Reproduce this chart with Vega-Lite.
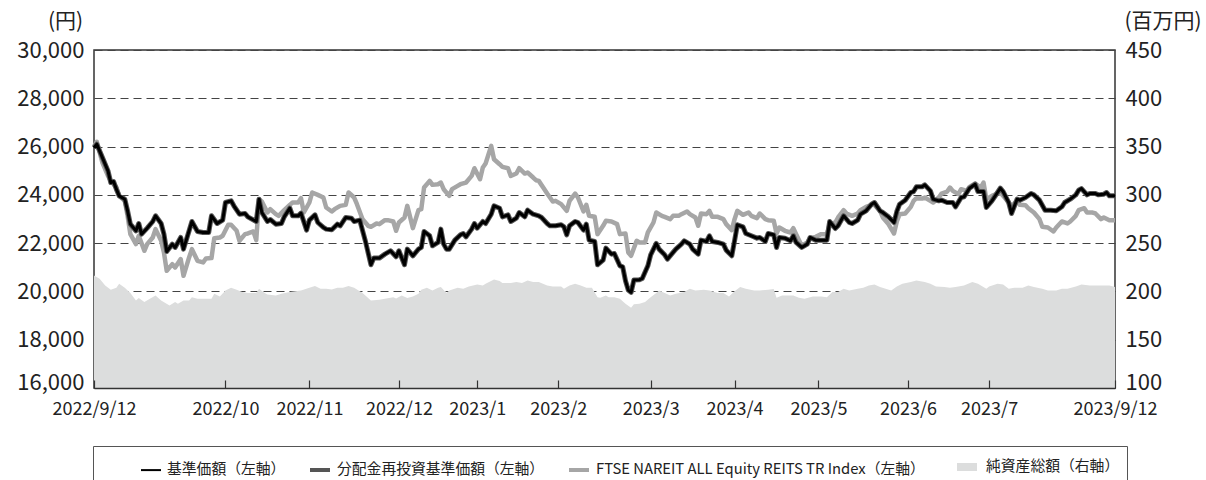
{
  "$schema": "https://vega.github.io/schema/vega-lite/v6.json",
  "width": 1021,
  "height": 338,
  "autosize": {"type": "none"},
  "padding": {"left": 94, "top": 50, "right": 91, "bottom": 92},
  "background": "white",
  "config": {
    "font": "Noto Sans CJK JP",
    "view": {"stroke": "#333", "strokeWidth": 1.5},
    "axis": {"labelFont": "Noto Sans CJK JP", "titleFont": "Noto Sans CJK JP", "labelColor": "#222", "titleColor": "#222", "titleFontWeight": "normal"},
    "legend": {
      "orient": "none", "legendX": -1, "legendY": 396, "direction": "horizontal",
      "labelFont": "Noto Sans CJK JP", "labelFontSize": 14.8, "labelColor": "#222", "labelLimit": 700,
      "titleOrient": "left", "titlePadding": 40, "titleFont": "Noto Sans CJK JP", "titleFontSize": 14,
      "symbolType": "stroke", "symbolSize": 400, "symbolStrokeWidth": 4, "labelOffset": 5, "columnPadding": 16,
      "padding": 7, "strokeColor": "#555", "fillColor": "white"
    }
  },
  "datasets": {
    "nav": [
      {"date":"2022-09-12","v":25950},{"date":"2022-09-13","v":26100},{"date":"2022-09-15","v":25545},{"date":"2022-09-17","v":24993},{"date":"2022-09-18","v":24510},{"date":"2022-09-19","v":24552},{"date":"2022-09-20","v":24235},{"date":"2022-09-21","v":23959},{"date":"2022-09-23","v":23821},{"date":"2022-09-24","v":23338},{"date":"2022-09-25","v":22787},{"date":"2022-09-27","v":22511},{"date":"2022-09-28","v":22814},{"date":"2022-09-29","v":22373},
      {"date":"2022-10-01","v":22621},{"date":"2022-10-03","v":22897},{"date":"2022-10-04","v":23131},{"date":"2022-10-06","v":22814},{"date":"2022-10-07","v":22373},{"date":"2022-10-08","v":21655},{"date":"2022-10-10","v":21959},{"date":"2022-10-11","v":21821},{"date":"2022-10-13","v":22235},{"date":"2022-10-14","v":21752},{"date":"2022-10-16","v":22511},{"date":"2022-10-17","v":22897},{"date":"2022-10-19","v":22483},{"date":"2022-10-21","v":22442},{"date":"2022-10-23","v":22442},{"date":"2022-10-24","v":23131},{"date":"2022-10-26","v":22814},{"date":"2022-10-28","v":22952},{"date":"2022-10-29","v":23683},{"date":"2022-10-31","v":23752},
      {"date":"2022-11-01","v":23545},{"date":"2022-11-03","v":23200},{"date":"2022-11-05","v":23228},{"date":"2022-11-06","v":23090},{"date":"2022-11-09","v":22897},{"date":"2022-11-10","v":23821},{"date":"2022-11-11","v":23269},{"date":"2022-11-13","v":22897},{"date":"2022-11-14","v":22980},{"date":"2022-11-16","v":22787},{"date":"2022-11-18","v":22814},{"date":"2022-11-19","v":23090},{"date":"2022-11-21","v":23448},{"date":"2022-11-22","v":23131},{"date":"2022-11-24","v":23131},{"date":"2022-11-25","v":23242},{"date":"2022-11-27","v":22539},{"date":"2022-11-28","v":22952},{"date":"2022-11-30","v":23173},
      {"date":"2022-12-01","v":22855},{"date":"2022-12-03","v":22649},{"date":"2022-12-04","v":22580},{"date":"2022-12-06","v":22552},{"date":"2022-12-08","v":22787},{"date":"2022-12-09","v":22718},{"date":"2022-12-11","v":23063},{"date":"2022-12-13","v":23035},{"date":"2022-12-14","v":22897},{"date":"2022-12-16","v":22952},{"date":"2022-12-18","v":22097},{"date":"2022-12-20","v":21104},{"date":"2022-12-21","v":21380},{"date":"2022-12-23","v":21380},{"date":"2022-12-25","v":21545},{"date":"2022-12-27","v":21683},{"date":"2022-12-29","v":21435},{"date":"2022-12-30","v":21683},
      {"date":"2023-01-01","v":21104},{"date":"2023-01-02","v":21752},{"date":"2023-01-04","v":21476},{"date":"2023-01-06","v":21752},{"date":"2023-01-07","v":21821},{"date":"2023-01-08","v":22483},{"date":"2023-01-10","v":22304},{"date":"2023-01-11","v":21890},{"date":"2023-01-13","v":22028},{"date":"2023-01-14","v":22580},{"date":"2023-01-15","v":21959},{"date":"2023-01-16","v":21752},{"date":"2023-01-17","v":21752},{"date":"2023-01-19","v":22124},{"date":"2023-01-21","v":22345},{"date":"2023-01-22","v":22400},{"date":"2023-01-23","v":22262},{"date":"2023-01-25","v":22580},{"date":"2023-01-26","v":22814},{"date":"2023-01-27","v":22621},{"date":"2023-01-29","v":22897},{"date":"2023-01-30","v":22814},
      {"date":"2023-02-01","v":23200},{"date":"2023-02-02","v":23545},{"date":"2023-02-04","v":23448},{"date":"2023-02-05","v":23090},{"date":"2023-02-07","v":23173},{"date":"2023-02-08","v":22897},{"date":"2023-02-10","v":23035},{"date":"2023-02-11","v":23269},{"date":"2023-02-13","v":23090},{"date":"2023-02-14","v":23366},{"date":"2023-02-16","v":23200},{"date":"2023-02-18","v":23131},{"date":"2023-02-19","v":23063},{"date":"2023-02-21","v":22814},{"date":"2023-02-22","v":22718},{"date":"2023-02-24","v":22718},{"date":"2023-02-26","v":22759},{"date":"2023-02-27","v":22676},{"date":"2023-02-28","v":22345},
      {"date":"2023-03-01","v":22718},{"date":"2023-03-03","v":22897},{"date":"2023-03-04","v":22855},{"date":"2023-03-06","v":22539},{"date":"2023-03-07","v":22787},{"date":"2023-03-08","v":22124},{"date":"2023-03-10","v":22069},{"date":"2023-03-11","v":21104},{"date":"2023-03-13","v":21297},{"date":"2023-03-14","v":21793},{"date":"2023-03-16","v":21545},{"date":"2023-03-17","v":21573},{"date":"2023-03-19","v":21062},{"date":"2023-03-20","v":21021},{"date":"2023-03-21","v":20442},{"date":"2023-03-22","v":20055},{"date":"2023-03-23","v":19959},{"date":"2023-03-24","v":20469},{"date":"2023-03-26","v":20483},{"date":"2023-03-27","v":20538},{"date":"2023-03-29","v":21062},{"date":"2023-03-30","v":21517},
      {"date":"2023-04-01","v":21986},{"date":"2023-04-02","v":21752},{"date":"2023-04-04","v":21517},{"date":"2023-04-05","v":21338},{"date":"2023-04-07","v":21614},{"date":"2023-04-08","v":21752},{"date":"2023-04-10","v":21959},{"date":"2023-04-11","v":22097},{"date":"2023-04-13","v":21959},{"date":"2023-04-14","v":21752},{"date":"2023-04-16","v":21545},{"date":"2023-04-17","v":22124},{"date":"2023-04-19","v":22069},{"date":"2023-04-20","v":22304},{"date":"2023-04-21","v":22069},{"date":"2023-04-23","v":22028},{"date":"2023-04-25","v":21959},{"date":"2023-04-26","v":21710},{"date":"2023-04-28","v":21476},{"date":"2023-04-29","v":22097},{"date":"2023-04-30","v":22759},
      {"date":"2023-05-02","v":22676},{"date":"2023-05-03","v":22400},{"date":"2023-05-05","v":22304},{"date":"2023-05-07","v":22207},{"date":"2023-05-08","v":22235},{"date":"2023-05-10","v":22069},{"date":"2023-05-11","v":22400},{"date":"2023-05-13","v":22345},{"date":"2023-05-14","v":21821},{"date":"2023-05-15","v":22235},{"date":"2023-05-17","v":22207},{"date":"2023-05-19","v":22097},{"date":"2023-05-20","v":22304},{"date":"2023-05-21","v":22028},{"date":"2023-05-23","v":21821},{"date":"2023-05-25","v":21959},{"date":"2023-05-26","v":22235},{"date":"2023-05-28","v":22124},{"date":"2023-05-30","v":22124},
      {"date":"2023-06-01","v":22124},{"date":"2023-06-02","v":22897},{"date":"2023-06-04","v":22607},{"date":"2023-06-05","v":22718},{"date":"2023-06-07","v":23131},{"date":"2023-06-09","v":22855},{"date":"2023-06-10","v":22814},{"date":"2023-06-12","v":22952},{"date":"2023-06-13","v":23200},{"date":"2023-06-15","v":23338},{"date":"2023-06-17","v":23614},{"date":"2023-06-18","v":23683},{"date":"2023-06-20","v":23338},{"date":"2023-06-21","v":23269},{"date":"2023-06-23","v":23090},{"date":"2023-06-25","v":22855},{"date":"2023-06-26","v":23311},{"date":"2023-06-27","v":23614},{"date":"2023-06-29","v":23780},
      {"date":"2023-07-01","v":24097},{"date":"2023-07-02","v":24138},{"date":"2023-07-03","v":24331},{"date":"2023-07-05","v":24331},{"date":"2023-07-06","v":24414},{"date":"2023-07-08","v":24166},{"date":"2023-07-09","v":23821},{"date":"2023-07-11","v":23752},{"date":"2023-07-12","v":23780},{"date":"2023-07-14","v":23683},{"date":"2023-07-16","v":23683},{"date":"2023-07-17","v":23504},{"date":"2023-07-19","v":23890},{"date":"2023-07-20","v":23917},{"date":"2023-07-22","v":24276},{"date":"2023-07-24","v":24441},{"date":"2023-07-25","v":24138},{"date":"2023-07-27","v":24138},{"date":"2023-07-28","v":23476},{"date":"2023-07-30","v":23752},
      {"date":"2023-08-01","v":24097},{"date":"2023-08-02","v":24276},{"date":"2023-08-03","v":24138},{"date":"2023-08-05","v":23683},{"date":"2023-08-06","v":23228},{"date":"2023-08-08","v":23821},{"date":"2023-08-09","v":23780},{"date":"2023-08-11","v":23890},{"date":"2023-08-13","v":24055},{"date":"2023-08-14","v":24000},{"date":"2023-08-16","v":23780},{"date":"2023-08-18","v":23366},{"date":"2023-08-20","v":23366},{"date":"2023-08-22","v":23338},{"date":"2023-08-24","v":23504},{"date":"2023-08-25","v":23683},{"date":"2023-08-27","v":23821},{"date":"2023-08-29","v":24000},{"date":"2023-08-30","v":24193},{"date":"2023-08-31","v":24262},
      {"date":"2023-09-02","v":24000},{"date":"2023-09-03","v":24055},{"date":"2023-09-05","v":24055},{"date":"2023-09-06","v":24000},{"date":"2023-09-08","v":24028},{"date":"2023-09-09","v":24097},{"date":"2023-09-10","v":23959},{"date":"2023-09-12","v":23959}
    ],
    "ftse": [
      {"date":"2022-09-12","v":26000},{"date":"2022-09-13","v":26200},{"date":"2022-09-15","v":25338},{"date":"2022-09-17","v":24786},{"date":"2022-09-18","v":24579},{"date":"2022-09-20","v":24304},{"date":"2022-09-21","v":23959},{"date":"2022-09-23","v":23752},{"date":"2022-09-24","v":23131},{"date":"2022-09-25","v":22373},{"date":"2022-09-27","v":21959},{"date":"2022-09-28","v":22304},{"date":"2022-09-30","v":21683},
      {"date":"2022-10-01","v":21959},{"date":"2022-10-03","v":22235},{"date":"2022-10-04","v":22580},{"date":"2022-10-06","v":22097},{"date":"2022-10-07","v":21614},{"date":"2022-10-08","v":20855},{"date":"2022-10-10","v":21131},{"date":"2022-10-11","v":20993},{"date":"2022-10-13","v":21338},{"date":"2022-10-14","v":20648},{"date":"2022-10-16","v":21407},{"date":"2022-10-17","v":21752},{"date":"2022-10-19","v":21269},{"date":"2022-10-21","v":21200},{"date":"2022-10-22","v":21366},{"date":"2022-10-24","v":21380},{"date":"2022-10-25","v":22207},{"date":"2022-10-27","v":22235},{"date":"2022-10-28","v":22304},{"date":"2022-10-30","v":22759},{"date":"2022-10-31","v":22759},
      {"date":"2022-11-02","v":22511},{"date":"2022-11-03","v":22097},{"date":"2022-11-05","v":22373},{"date":"2022-11-06","v":22400},{"date":"2022-11-08","v":22483},{"date":"2022-11-09","v":22124},{"date":"2022-11-10","v":23821},{"date":"2022-11-11","v":23724},{"date":"2022-11-13","v":23269},{"date":"2022-11-14","v":23407},{"date":"2022-11-16","v":23200},{"date":"2022-11-17","v":23131},{"date":"2022-11-19","v":23366},{"date":"2022-11-21","v":23586},{"date":"2022-11-22","v":23683},{"date":"2022-11-24","v":23683},{"date":"2022-11-25","v":23862},{"date":"2022-11-26","v":23269},{"date":"2022-11-28","v":23683},{"date":"2022-11-29","v":24097},
      {"date":"2022-12-01","v":24000},{"date":"2022-12-03","v":23890},{"date":"2022-12-04","v":23476},{"date":"2022-12-06","v":23311},{"date":"2022-12-07","v":23407},{"date":"2022-12-09","v":23545},{"date":"2022-12-11","v":23586},{"date":"2022-12-12","v":24097},{"date":"2022-12-14","v":23890},{"date":"2022-12-15","v":23614},{"date":"2022-12-17","v":22993},{"date":"2022-12-19","v":22718},{"date":"2022-12-20","v":22676},{"date":"2022-12-22","v":22814},{"date":"2022-12-23","v":22787},{"date":"2022-12-25","v":22952},{"date":"2022-12-26","v":22952},{"date":"2022-12-28","v":22897},{"date":"2022-12-29","v":22511},{"date":"2022-12-30","v":22855},
      {"date":"2023-01-01","v":23063},{"date":"2023-01-02","v":23545},{"date":"2023-01-04","v":22621},{"date":"2023-01-06","v":23366},{"date":"2023-01-07","v":23407},{"date":"2023-01-08","v":24304},{"date":"2023-01-10","v":24579},{"date":"2023-01-11","v":24414},{"date":"2023-01-13","v":24441},{"date":"2023-01-14","v":24510},{"date":"2023-01-15","v":24235},{"date":"2023-01-17","v":23959},{"date":"2023-01-18","v":24235},{"date":"2023-01-20","v":24372},{"date":"2023-01-21","v":24441},{"date":"2023-01-23","v":24510},{"date":"2023-01-25","v":24786},{"date":"2023-01-26","v":25104},{"date":"2023-01-28","v":24648},{"date":"2023-01-29","v":25131},{"date":"2023-01-30","v":25297},
      {"date":"2023-02-01","v":26028},{"date":"2023-02-02","v":25476},{"date":"2023-02-04","v":25269},{"date":"2023-02-05","v":25159},{"date":"2023-02-07","v":25104},{"date":"2023-02-08","v":24786},{"date":"2023-02-10","v":24883},{"date":"2023-02-11","v":25104},{"date":"2023-02-13","v":24883},{"date":"2023-02-14","v":24924},{"date":"2023-02-16","v":24717},{"date":"2023-02-17","v":24607},{"date":"2023-02-18","v":24579},{"date":"2023-02-20","v":24235},{"date":"2023-02-21","v":24055},{"date":"2023-02-23","v":23724},{"date":"2023-02-24","v":23752},{"date":"2023-02-26","v":23614},{"date":"2023-02-28","v":23338},
      {"date":"2023-03-01","v":23752},{"date":"2023-03-03","v":24055},{"date":"2023-03-04","v":23890},{"date":"2023-03-06","v":23311},{"date":"2023-03-07","v":23586},{"date":"2023-03-08","v":23131},{"date":"2023-03-10","v":23090},{"date":"2023-03-11","v":22373},{"date":"2023-03-13","v":22718},{"date":"2023-03-14","v":22924},{"date":"2023-03-16","v":22897},{"date":"2023-03-18","v":22787},{"date":"2023-03-19","v":22373},{"date":"2023-03-21","v":22400},{"date":"2023-03-22","v":21614},{"date":"2023-03-23","v":21476},{"date":"2023-03-25","v":22097},{"date":"2023-03-26","v":22028},{"date":"2023-03-28","v":22028},{"date":"2023-03-29","v":22442},{"date":"2023-03-31","v":22855},
      {"date":"2023-04-01","v":23269},{"date":"2023-04-03","v":23131},{"date":"2023-04-04","v":23090},{"date":"2023-04-06","v":22993},{"date":"2023-04-07","v":23131},{"date":"2023-04-09","v":23131},{"date":"2023-04-10","v":23200},{"date":"2023-04-12","v":23311},{"date":"2023-04-13","v":23200},{"date":"2023-04-15","v":23063},{"date":"2023-04-16","v":22718},{"date":"2023-04-17","v":23228},{"date":"2023-04-19","v":23200},{"date":"2023-04-20","v":23338},{"date":"2023-04-21","v":23090},{"date":"2023-04-23","v":23090},{"date":"2023-04-25","v":22993},{"date":"2023-04-26","v":22787},{"date":"2023-04-28","v":22539},{"date":"2023-04-29","v":22993},{"date":"2023-04-30","v":23338},
      {"date":"2023-05-02","v":23173},{"date":"2023-05-04","v":23269},{"date":"2023-05-05","v":23131},{"date":"2023-05-07","v":23035},{"date":"2023-05-08","v":23228},{"date":"2023-05-10","v":22993},{"date":"2023-05-11","v":22952},{"date":"2023-05-13","v":22924},{"date":"2023-05-14","v":22400},{"date":"2023-05-15","v":22649},{"date":"2023-05-17","v":22511},{"date":"2023-05-19","v":22442},{"date":"2023-05-20","v":22621},{"date":"2023-05-21","v":22373},{"date":"2023-05-23","v":21890},{"date":"2023-05-25","v":22028},{"date":"2023-05-26","v":22207},{"date":"2023-05-28","v":22262},{"date":"2023-05-30","v":22373},
      {"date":"2023-06-01","v":22373},{"date":"2023-06-02","v":22787},{"date":"2023-06-04","v":22855},{"date":"2023-06-05","v":23063},{"date":"2023-06-07","v":23366},{"date":"2023-06-08","v":23228},{"date":"2023-06-10","v":23131},{"date":"2023-06-12","v":23228},{"date":"2023-06-13","v":23366},{"date":"2023-06-15","v":23504},{"date":"2023-06-17","v":23586},{"date":"2023-06-18","v":23586},{"date":"2023-06-20","v":23338},{"date":"2023-06-21","v":23063},{"date":"2023-06-23","v":22787},{"date":"2023-06-25","v":22400},{"date":"2023-06-26","v":22897},{"date":"2023-06-27","v":23200},{"date":"2023-06-29","v":23228},
      {"date":"2023-07-01","v":23504},{"date":"2023-07-02","v":23752},{"date":"2023-07-03","v":23862},{"date":"2023-07-05","v":23848},{"date":"2023-07-06","v":23890},{"date":"2023-07-08","v":23752},{"date":"2023-07-09","v":23683},{"date":"2023-07-11","v":23890},{"date":"2023-07-12","v":24055},{"date":"2023-07-14","v":24138},{"date":"2023-07-15","v":24304},{"date":"2023-07-16","v":24166},{"date":"2023-07-18","v":24028},{"date":"2023-07-19","v":24235},{"date":"2023-07-21","v":24166},{"date":"2023-07-22","v":24331},{"date":"2023-07-24","v":24469},{"date":"2023-07-26","v":24304},{"date":"2023-07-27","v":24510},{"date":"2023-07-28","v":23821},{"date":"2023-07-30","v":23959},
      {"date":"2023-08-01","v":24055},{"date":"2023-08-02","v":24097},{"date":"2023-08-03","v":23959},{"date":"2023-08-05","v":23683},{"date":"2023-08-06","v":23545},{"date":"2023-08-08","v":23752},{"date":"2023-08-09","v":23586},{"date":"2023-08-11","v":23573},{"date":"2023-08-12","v":23448},{"date":"2023-08-14","v":23269},{"date":"2023-08-16","v":22993},{"date":"2023-08-17","v":22676},{"date":"2023-08-19","v":22649},{"date":"2023-08-21","v":22483},{"date":"2023-08-22","v":22649},{"date":"2023-08-24","v":22897},{"date":"2023-08-26","v":22814},{"date":"2023-08-27","v":22897},{"date":"2023-08-29","v":23131},{"date":"2023-08-30","v":23366},
      {"date":"2023-09-01","v":23448},{"date":"2023-09-02","v":23269},{"date":"2023-09-04","v":23269},{"date":"2023-09-05","v":23228},{"date":"2023-09-07","v":22993},{"date":"2023-09-08","v":23063},{"date":"2023-09-10","v":22952},{"date":"2023-09-12","v":22952}
    ],
    "aum": [
      {"date":"2022-09-12","v":216.6},{"date":"2022-09-14","v":213.1},{"date":"2022-09-16","v":206.2},{"date":"2022-09-18","v":201.7},{"date":"2022-09-20","v":203.8},{"date":"2022-09-21","v":207.9},{"date":"2022-09-23","v":203.8},{"date":"2022-09-25","v":198.3},{"date":"2022-09-27","v":190.7},{"date":"2022-09-28","v":193.1},{"date":"2022-09-30","v":189.0},
      {"date":"2022-10-02","v":192.4},{"date":"2022-10-04","v":195.9},{"date":"2022-10-06","v":190.7},{"date":"2022-10-09","v":185.5},{"date":"2022-10-11","v":189.0},{"date":"2022-10-12","v":187.2},{"date":"2022-10-14","v":190.7},{"date":"2022-10-16","v":190.7},{"date":"2022-10-17","v":194.1},{"date":"2022-10-19","v":192.4},{"date":"2022-10-22","v":192.4},{"date":"2022-10-24","v":192.4},{"date":"2022-10-25","v":197.6},{"date":"2022-10-27","v":194.8},{"date":"2022-10-29","v":201.0},{"date":"2022-10-31","v":203.8},
      {"date":"2022-11-02","v":201.7},{"date":"2022-11-04","v":199.3},{"date":"2022-11-06","v":198.3},{"date":"2022-11-09","v":198.3},{"date":"2022-11-10","v":202.8},{"date":"2022-11-12","v":198.3},{"date":"2022-11-13","v":196.9},{"date":"2022-11-16","v":195.9},{"date":"2022-11-18","v":197.6},{"date":"2022-11-21","v":199.3},{"date":"2022-11-23","v":200.3},{"date":"2022-11-25","v":201.0},{"date":"2022-11-28","v":203.8},{"date":"2022-11-30","v":205.5},
      {"date":"2022-12-02","v":202.8},{"date":"2022-12-04","v":202.8},{"date":"2022-12-06","v":202.1},{"date":"2022-12-08","v":203.8},{"date":"2022-12-10","v":203.8},{"date":"2022-12-12","v":205.5},{"date":"2022-12-14","v":203.8},{"date":"2022-12-17","v":198.3},{"date":"2022-12-19","v":193.1},{"date":"2022-12-20","v":190.7},{"date":"2022-12-23","v":191.4},{"date":"2022-12-25","v":192.4},{"date":"2022-12-28","v":194.1},{"date":"2022-12-29","v":192.8},{"date":"2022-12-31","v":195.9},
      {"date":"2023-01-02","v":193.1},{"date":"2023-01-04","v":194.8},{"date":"2023-01-06","v":197.6},{"date":"2023-01-07","v":201.7},{"date":"2023-01-09","v":203.8},{"date":"2023-01-11","v":201.0},{"date":"2023-01-13","v":203.8},{"date":"2023-01-14","v":204.5},{"date":"2023-01-16","v":198.3},{"date":"2023-01-17","v":201.0},{"date":"2023-01-20","v":203.8},{"date":"2023-01-22","v":202.8},{"date":"2023-01-24","v":205.2},{"date":"2023-01-27","v":207.2},{"date":"2023-01-29","v":206.2},{"date":"2023-01-30","v":207.9},
      {"date":"2023-02-02","v":212.4},{"date":"2023-02-04","v":210.7},{"date":"2023-02-05","v":208.6},{"date":"2023-02-08","v":208.6},{"date":"2023-02-10","v":209.7},{"date":"2023-02-12","v":208.6},{"date":"2023-02-14","v":211.4},{"date":"2023-02-16","v":209.7},{"date":"2023-02-18","v":209.7},{"date":"2023-02-21","v":206.2},{"date":"2023-02-23","v":205.2},{"date":"2023-02-26","v":205.2},{"date":"2023-02-27","v":202.8},
      {"date":"2023-03-01","v":206.2},{"date":"2023-03-03","v":207.9},{"date":"2023-03-05","v":206.2},{"date":"2023-03-07","v":203.8},{"date":"2023-03-09","v":203.8},{"date":"2023-03-11","v":194.1},{"date":"2023-03-12","v":193.4},{"date":"2023-03-14","v":195.9},{"date":"2023-03-15","v":194.1},{"date":"2023-03-17","v":194.1},{"date":"2023-03-19","v":192.4},{"date":"2023-03-21","v":187.2},{"date":"2023-03-23","v":183.1},{"date":"2023-03-24","v":186.6},{"date":"2023-03-26","v":187.2},{"date":"2023-03-28","v":189.0},{"date":"2023-03-30","v":194.1},
      {"date":"2023-04-01","v":198.3},{"date":"2023-04-02","v":201.0},{"date":"2023-04-04","v":198.3},{"date":"2023-04-06","v":195.9},{"date":"2023-04-08","v":197.6},{"date":"2023-04-11","v":199.3},{"date":"2023-04-13","v":202.8},{"date":"2023-04-15","v":201.0},{"date":"2023-04-18","v":201.7},{"date":"2023-04-20","v":201.0},{"date":"2023-04-23","v":198.3},{"date":"2023-04-25","v":198.3},{"date":"2023-04-27","v":194.8},{"date":"2023-04-29","v":200.3},
      {"date":"2023-05-01","v":204.5},{"date":"2023-05-03","v":202.8},{"date":"2023-05-06","v":201.0},{"date":"2023-05-08","v":201.0},{"date":"2023-05-11","v":201.7},{"date":"2023-05-13","v":202.4},{"date":"2023-05-14","v":193.4},{"date":"2023-05-16","v":195.9},{"date":"2023-05-18","v":195.9},{"date":"2023-05-20","v":195.9},{"date":"2023-05-22","v":193.4},{"date":"2023-05-24","v":192.4},{"date":"2023-05-27","v":194.8},{"date":"2023-05-30","v":194.8},
      {"date":"2023-06-01","v":194.1},{"date":"2023-06-03","v":199.3},{"date":"2023-06-05","v":199.3},{"date":"2023-06-07","v":202.8},{"date":"2023-06-09","v":201.0},{"date":"2023-06-12","v":202.8},{"date":"2023-06-14","v":203.8},{"date":"2023-06-16","v":206.2},{"date":"2023-06-18","v":207.2},{"date":"2023-06-20","v":204.5},{"date":"2023-06-22","v":202.8},{"date":"2023-06-24","v":201.0},{"date":"2023-06-26","v":205.2},{"date":"2023-06-28","v":207.9},
      {"date":"2023-07-01","v":209.7},{"date":"2023-07-03","v":211.4},{"date":"2023-07-06","v":209.7},{"date":"2023-07-08","v":207.9},{"date":"2023-07-10","v":205.2},{"date":"2023-07-13","v":204.5},{"date":"2023-07-15","v":203.8},{"date":"2023-07-17","v":204.5},{"date":"2023-07-20","v":206.2},{"date":"2023-07-23","v":209.7},{"date":"2023-07-25","v":207.9},{"date":"2023-07-28","v":202.8},{"date":"2023-07-29","v":205.2},
      {"date":"2023-08-01","v":207.9},{"date":"2023-08-03","v":207.2},{"date":"2023-08-05","v":202.8},{"date":"2023-08-07","v":203.8},{"date":"2023-08-10","v":203.8},{"date":"2023-08-12","v":206.2},{"date":"2023-08-14","v":204.5},{"date":"2023-08-17","v":202.8},{"date":"2023-08-19","v":201.0},{"date":"2023-08-22","v":201.0},{"date":"2023-08-24","v":202.8},{"date":"2023-08-26","v":202.8},{"date":"2023-08-29","v":205.2},{"date":"2023-08-31","v":207.2},
      {"date":"2023-09-03","v":206.2},{"date":"2023-09-05","v":206.2},{"date":"2023-09-07","v":206.2},{"date":"2023-09-10","v":206.2},{"date":"2023-09-12","v":204.5}
    ]
  },
  "layer": [
    {
      "data": {"name": "aum"},
      "mark": {"type": "area", "opacity": 1, "clip": true},
      "encoding": {
        "x": {"field": "date", "type": "temporal",
          "scale": {"type": "utc", "domain": [{"year": 2022, "month": 9, "date": 12, "utc": true}, {"year": 2023, "month": 9, "date": 12, "utc": true}]},
          "axis": {"orient": "bottom", "title": null, "grid": false, "domain": true, "domainColor": "#333", "domainWidth": 1.5, "zindex": 1,
            "values": [{"year":2022,"month":9,"date":12,"utc":true},{"year":2022,"month":10,"date":29,"utc":true},{"year":2022,"month":11,"date":28,"utc":true},{"year":2022,"month":12,"date":30,"utc":true},{"year":2023,"month":1,"date":27,"utc":true},{"year":2023,"month":2,"date":25,"utc":true},{"year":2023,"month":3,"date":30,"utc":true},{"year":2023,"month":4,"date":29,"utc":true},{"year":2023,"month":5,"date":29,"utc":true},{"year":2023,"month":6,"date":30,"utc":true},{"year":2023,"month":7,"date":29,"utc":true},{"year":2023,"month":9,"date":12,"utc":true}],
            "labelExpr": "utcmonth(datum.value) == 8 ? utcFormat(datum.value, '%Y/%-m/%-d') : utcFormat(datum.value, '%Y/%-m')",
            "labelFontSize": 18, "labelFlush": false, "labelOverlap": false, "labelBound": false,
            "ticks": true, "tickSize": -8, "tickColor": "#333", "tickWidth": 1.2, "labelPadding": 20}},
        "y": {"field": "v", "type": "quantitative",
          "scale": {"domain": [100, 450], "zero": false, "nice": false},
          "axis": {"orient": "right", "values": [100, 150, 200, 250, 300, 350, 400, 450], "grid": false, "ticks": false, "domain": false,
            "labelFontSize": 22, "labelPadding": 10, "labelOverlap": false, "labelFlush": false,
            "labelOffset": {"condition": {"test": "datum.value == 100", "value": -6}, "value": 0},
            "title": "(百万円)", "titleAngle": 0, "titleFontSize": 21, "titleAlign": "left", "titleBaseline": "middle", "titleX": 9, "titleY": -29}},
        "y2": {"datum": 100},
        "color": {"datum": "純資産総額（右軸）", "type": "nominal",
          "scale": {"domain": ["基準価額（左軸）", "分配金再投資基準価額（左軸）", "FTSE NAREIT ALL Equity REITS TR Index（左軸）", "純資産総額（右軸）"],
                    "range": ["#000000", "#555555", "#a6a6a6", "#dcdddd"]},
          "legend": {"title": "　"}},
        "strokeWidth": {"datum": "純資産総額（右軸）", "type": "nominal",
          "scale": {"type": "ordinal", "domain": ["基準価額（左軸）", "分配金再投資基準価額（左軸）", "FTSE NAREIT ALL Equity REITS TR Index（左軸）", "純資産総額（右軸）"],
                    "range": [2, 4, 4, 8]},
          "legend": {"title": "　"}}
      }
    },
    {
      "encoding": {
        "x": {"field": "date", "type": "temporal"},
        "y": {"field": "v", "type": "quantitative",
          "scale": {"domain": [16000, 30000], "zero": false, "nice": false},
          "axis": {"orient": "left", "values": [16000, 18000, 20000, 22000, 24000, 26000, 28000, 30000], "format": ",d",
            "grid": true, "gridDash": [8, 5], "gridColor": "#444", "gridWidth": 1.2, "ticks": false, "domain": false,
            "labelFontSize": 22, "labelPadding": 10, "labelOverlap": false, "labelFlush": false,
            "labelOffset": {"condition": {"test": "datum.value == 16000", "value": -6}, "value": 0},
            "title": "(円)", "titleAngle": 0, "titleFontSize": 21, "titleAlign": "center", "titleBaseline": "middle", "titleX": -29, "titleY": -29}}
      },
      "layer": [
        {"data": {"name": "ftse"}, "mark": {"type": "line", "strokeWidth": 4.5, "strokeJoin": "round"},
         "encoding": {"color": {"datum": "FTSE NAREIT ALL Equity REITS TR Index（左軸）", "type": "nominal"}}},
        {"data": {"name": "nav"}, "mark": {"type": "line", "strokeWidth": 5, "strokeJoin": "round"},
         "encoding": {"color": {"datum": "分配金再投資基準価額（左軸）", "type": "nominal"}}},
        {"data": {"name": "nav"}, "mark": {"type": "line", "strokeWidth": 3, "strokeJoin": "round"},
         "encoding": {"color": {"datum": "基準価額（左軸）", "type": "nominal"}}}
      ]
    }
  ],
  "resolve": {"scale": {"y": "independent"}}
}
